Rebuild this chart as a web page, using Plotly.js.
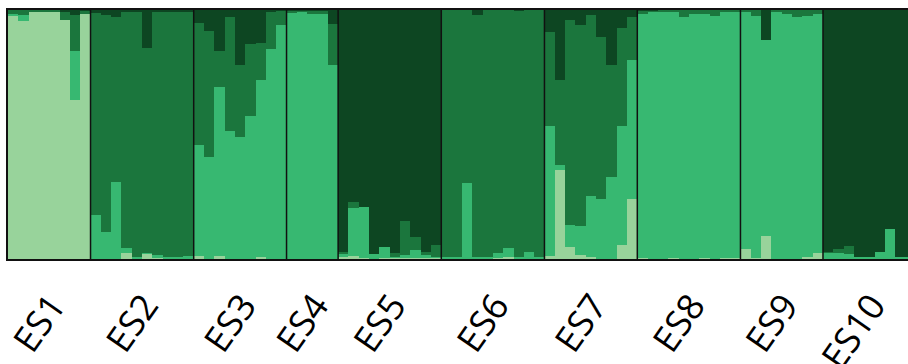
<!DOCTYPE html>
<html>
<head>
<meta charset="utf-8">
<script src="https://cdn.plot.ly/plotly-3.0.1.min.js"></script>
<style>html,body{margin:0;padding:0;background:#fff;}#chart{width:908px;height:364px;}</style>
</head>
<body>
<div id="chart"></div>
<script>
// Populations and number of individuals in each
var populations = ["ES1","ES2","ES3","ES4","ES5","ES6","ES7","ES8","ES9","ES10"];
var counts = [8, 10, 9, 5, 10, 10, 9, 10, 8, 9];

// Ancestry proportions per individual (cluster 1 = light ... cluster 4 = darkest)
var cluster1 = [
  0.975,0.955,0.99,0.99,0.99,0.96,0.64,0.985,            // ES1
  0,0,0,0.024,0,0.02,0.005,0,0,0,                         // ES2
  0.013,0,0.013,0,0,0,0.007,0,0,                          // ES3
  0,0,0,0,0,                                              // ES4
  0.01,0.013,0.005,0,0.005,0.005,0.005,0.005,0.005,0.005, // ES5
  0,0,0,0,0,0.005,0.01,0,0,0,                             // ES6
  0.013,0.358,0.05,0.016,0.007,0,0,0.056,0.239,           // ES7
  0.005,0,0,0.005,0,0,0.005,0,0.005,0.005,                // ES8
  0.04,0.005,0.091,0,0,0,0.01,0.023,                      // ES9
  0,0,0,0,0,0,0,0,0                                       // ES10
];
var cluster2 = [
  0.01,0.025,0,0,0,0,0.195,0,
  0.175,0.11,0.31,0.02,0.01,0.005,0.01,0.01,0.01,0.012,
  0.443,0.41,0.676,0.513,0.49,0.575,0.711,0.842,0.94,
  0.987,0.99,0.985,0.985,0.779,
  0.01,0.192,0.205,0.02,0.042,0.005,0.012,0.03,0.01,0.005,
  0.007,0.01,0.305,0.01,0.007,0.018,0.034,0.007,0.027,0.007,
  0.523,0.02,0.085,0.118,0.248,0.239,0.329,0.48,0.56,
  0.98,0.99,0.99,0.985,0.97,0.985,0.98,0.975,0.985,0.985,
  0.95,0.97,0.79,0.99,0.985,0.973,0.965,0.962,
  0.025,0.025,0.02,0.008,0.008,0.03,0.12,0.01,0.01
];
var cluster3 = [
  0.015,0.02,0.01,0.01,0.01,0.03,0.145,0.01,
  0.812,0.87,0.663,0.946,0.98,0.823,0.975,0.98,0.98,0.978,
  0.493,0.505,0.146,0.457,0.291,0.287,0.148,0.151,0.054,
  0.008,0.005,0.01,0.01,0.165,
  0.008,0.023,0,0,0,0.015,0.137,0.054,0.013,0.047,
  0.993,0.99,0.695,0.97,0.993,0.977,0.956,0.99,0.973,0.993,
  0.376,0.34,0.825,0.806,0.725,0.654,0.45,0.392,0.174,
  0.01,0.005,0.01,0.01,0.03,0.015,0.015,0.025,0.01,0.01,
  0.01,0.025,0,0.01,0.015,0.027,0.025,0.015,
  0.005,0.015,0.034,0,0,0,0,0,0
];
var cluster4 = [
  0,0,0,0,0,0.01,0.02,0.005,
  0.013,0.02,0.027,0.01,0.01,0.152,0.01,0.01,0.01,0.01,
  0.051,0.085,0.165,0.03,0.219,0.138,0.134,0.007,0.006,
  0.005,0.005,0.005,0.005,0.056,
  0.972,0.772,0.79,0.98,0.953,0.975,0.846,0.911,0.972,0.943,
  0,0,0,0.02,0,0,0,0.003,0,0,
  0.088,0.282,0.04,0.06,0.02,0.107,0.221,0.072,0.027,
  0.005,0.005,0,0,0,0,0,0,0,0,
  0,0,0.119,0,0,0,0,0,
  0.97,0.96,0.946,0.992,0.992,0.97,0.88,0.99,0.99
];
var clusterColors = ["#98d39b", "#37b871", "#1b763d", "#0d4622"];

var n = cluster1.length;
var idx = [];
for (var i = 0; i < n; i++) idx.push(i);

var series = [cluster1, cluster2, cluster3, cluster4];
var traces = series.map(function (vals, k) {
  return {
    type: "bar", x: idx, y: vals,
    marker: {color: clusterColors[k], line: {width: 0}},
    hoverinfo: "skip"
  };
});

// population boundaries and centers from counts
var shapes = [], centers = [], start = 0;
for (var p = 0; p < counts.length; p++) {
  centers.push(start + counts[p] / 2 - 0.5);
  if (p > 0) {
    shapes.push({type: "line", xref: "x", yref: "y", x0: start - 0.5, x1: start - 0.5,
      y0: 0, y1: 1, line: {color: "#111", width: 1.5}});
  }
  start += counts[p];
}

var layout = {
  width: 908, height: 364,
  margin: {l: 8, r: 0, t: 10, b: 105},
  barmode: "stack", bargap: 0,
  showlegend: false,
  paper_bgcolor: "#fff", plot_bgcolor: "#fff",
  shapes: shapes,
  xaxis: {
    range: [-0.5, 86.74],
    tickmode: "array", tickvals: centers, ticktext: populations,
    tickangle: -55, ticks: "",
    ticklabelstandoff: 9, ticklabelshift: 3,
    tickfont: {family: "Open Sans", size: 36, color: "#000"},
    showgrid: false, zeroline: false,
    showline: true, mirror: true, linecolor: "#111", linewidth: 2
  },
  yaxis: {
    range: [0, 1], showticklabels: false, ticks: "",
    showgrid: false, zeroline: false,
    showline: true, linecolor: "#111", linewidth: 2
  }
};

Plotly.newPlot("chart", traces, layout, {displayModeBar: false, staticPlot: true});
</script>
</body>
</html>
